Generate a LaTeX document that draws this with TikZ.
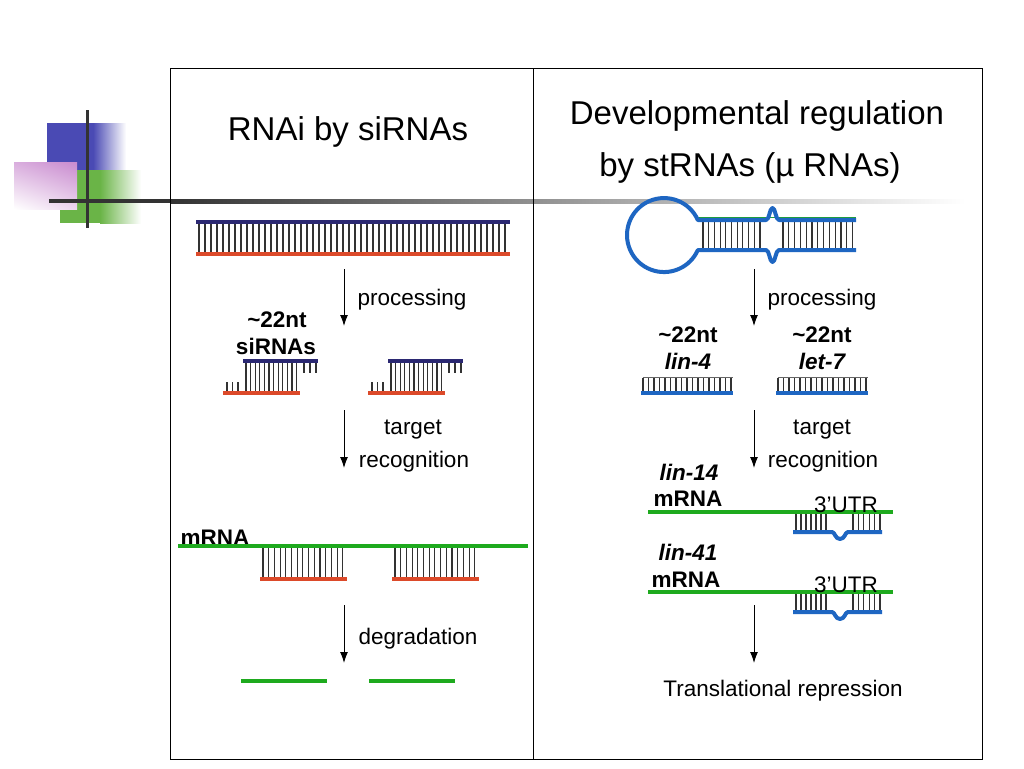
\documentclass[tikz,border=0pt]{standalone}
\usepackage{fontspec}
\setmainfont{Liberation Sans}
\usetikzlibrary{arrows.meta,positioning,calc,shadings}

\definecolor{sinavy}{HTML}{2B2872}
\definecolor{sired}{HTML}{DC4A2A}
\definecolor{mgreen}{HTML}{1EAA1E}
\definecolor{mblue}{HTML}{1E66C2}
\definecolor{decoblue}{HTML}{4A4AB4}
\definecolor{decopink}{HTML}{C98BCF}
\definecolor{decogreen}{HTML}{6AB447}

\tikzset{
  ttl/.style   = {font=\fontsize{33}{40}\selectfont, inner sep=0pt, yshift=-2pt},
  lbl/.style   = {font=\fontsize{22.5}{27}\selectfont, inner sep=0pt, yshift=-2pt},
  lblb/.style  = {font=\fontsize{22.5}{27}\selectfont\bfseries, inner sep=0pt, yshift=-2pt},
  lbli/.style  = {font=\fontsize{22.5}{27}\selectfont\bfseries\itshape, inner sep=0pt, yshift=-2pt},
  rung/.style  = {line width=1.1pt, black!80},
  sense/.style = {line width=4pt, sinavy},
  anti/.style  = {line width=4pt, sired},
  mrna/.style  = {line width=4pt, mgreen},
  mir/.style   = {line width=4pt, mblue},
  stepar/.style = {line width=1pt, -{Latex[length=11pt,width=8pt]}}
}

\begin{document}
\begin{tikzpicture}[x=1pt, y=-1pt]
    \useasboundingbox[fill=white] (0,0) rectangle (1024,768);

    % corner decoration
    \fill[decoblue] (47,123) rectangle (93,170);
    \shade[left color=decoblue, right color=white] (93,123) rectangle (126,170);
    \fill[decogreen] (60,170) rectangle (100,223);
    \shade[left color=decogreen, right color=white] (100,170) rectangle (141,223);
    \shade[upper right=decopink, upper left=decopink!70, lower right=decopink!35,
      lower left=white] (14,162) rectangle (77,209);
    \fill[black!80] (49,199) rectangle (170,203);
    \shade[left color=black!80, right color=white] (170,199) rectangle (965,203);
    \draw[line width=3pt, black!80] (87,110) -- (87,228);

    % frame
    \draw[line width=1pt] (170,68) rectangle (982,759);
    \draw[line width=1pt] (533,68) -- (533,759);

    % titles
    \node[ttl] (tl) at (348,130) {RNAi by siRNAs};
    \node[ttl] (tr1) at (757,114) {Developmental regulation};
    \node[ttl] (tr2) at (750,166) {by stRNAs (µ RNAs)};

    % ---------- left panel ----------
    \foreach \x in {199,205,...,507}
      \draw[rung] (\x,224) -- (\x,252);
    \draw[sense] (196,222) -- (510,222);
    \draw[anti] (196,254) -- (510,254);

    \coordinate (a1s) at (344,269);
    \coordinate (a1e) at (344,326);
    \draw[stepar] (a1s) -- (a1e);
    \node[lbl] (p1) at (412,298) {processing};
    \node[lblb] (nt1) at (277,318) {\textasciitilde22nt};
    \node[lblb] (si) at (276,344) {siRNAs};

    \foreach \dx in {0,145} {
      \begin{scope}[shift={(\dx,0)}]
        \foreach \x in {227,232.5,238}
          \draw[rung] (\x,382) -- (\x,392);
        \foreach \x in {246,250.6,...,297}
          \draw[rung] (\x,362) -- (\x,392);
        \foreach \x in {304,310,316}
          \draw[rung] (\x,362) -- (\x,373);
        \draw[sense] (243,361) -- (318,361);
        \draw[anti] (223,393) -- (300,393);
      \end{scope}
    }

    \coordinate (a2s) at (344,410);
    \coordinate (a2e) at (344,468);
    \draw[stepar] (a2s) -- (a2e);
    \node[lbl] (tg1) at (413,428) {target};
    \node[lbl] (rc1) at (414,460) {recognition};

    \node[lblb] (m1) at (215,536) {mRNA};
    \foreach \dx in {0,132} {
      \begin{scope}[shift={(\dx,0)}]
        \foreach \x in {263,268.7,...,345}
          \draw[rung] (\x,548) -- (\x,577);
        \draw[anti] (260,579) -- (347,579);
      \end{scope}
    }
    \draw[mrna] (178,546) -- (528,546);

    \coordinate (a3s) at (344,605);
    \coordinate (a3e) at (344,663);
    \draw[stepar] (a3s) -- (a3e);
    \node[lbl] (dg) at (418,637) {degradation};
    \draw[mrna] (241,681) -- (327,681);
    \draw[mrna] (369,681) -- (455,681);

    % ---------- right panel ----------
    \foreach \x in {703,708.7,...,764}
      \draw[rung] (\x,222) -- (\x,248);
    \foreach \x in {783,788.8,...,854}
      \draw[rung] (\x,222) -- (\x,248);
    \draw[line width=1.2pt, mgreen!80!mblue] (697,217.4) -- (856,217.4);
    \draw[mir, line join=round]
      (856,220) -- (779,220)
      .. controls (775.5,220) and (775.5,208) .. (772.5,208)
      .. controls (769.5,208) and (769.5,220) .. (766,220)
      -- (697.8,220) arc[start angle=-24, end angle=-336, radius=37]
      -- (766,250)
      .. controls (769.5,250) and (769.5,262) .. (772.5,262)
      .. controls (775.5,262) and (775.5,250) .. (779,250)
      -- (856,250);

    \coordinate (b1s) at (754,269);
    \coordinate (b1e) at (754,326);
    \draw[stepar] (b1s) -- (b1e);
    \node[lbl] (p2) at (822,298) {processing};
    \node[lblb] (nt2) at (688,333) {\textasciitilde22nt};
    \node[lbli] (l4) at (688,359) {lin-4};
    \node[lblb] (nt3) at (822,333) {\textasciitilde22nt};
    \node[lbli] (l7) at (822,359) {let-7};

    \foreach \dx in {0,135} {
      \begin{scope}[shift={(\dx,0)}]
        \foreach \x in {643,648.5,...,732}
          \draw[rung] (\x,378) -- (\x,391);
        \draw[line width=0.8pt, black!60] (642.5,377.6) -- (732.5,377.6);
        \draw[mir] (641,393) -- (733,393);
      \end{scope}
    }

    \coordinate (b2s) at (754,410);
    \coordinate (b2e) at (754,468);
    \draw[stepar] (b2s) -- (b2e);
    \node[lbl] (tg2) at (822,428) {target};
    \node[lbl] (rc2) at (823,460) {recognition};

    \node[lbli] (l14) at (689,470) {lin-14};
    \node[lblb] (m14) at (688,497) {mRNA};
    \node[lbli] (l41) at (688,550) {lin-41};
    \node[lblb] (m41) at (686,578) {mRNA};

    \foreach \dy/\nm in {0/u1,80/u2} {
      \begin{scope}[shift={(0,\dy)}]
        \foreach \x in {796,801,...,828}
          \draw[rung] (\x,514) -- (\x,530);
        \foreach \x in {853,858.4,...,881}
          \draw[rung] (\x,514) -- (\x,530);
        \draw[mir, line join=round] (793,532) -- (832,532)
          .. controls (835,532) and (835,539) .. (840,539)
          .. controls (845,539) and (845,532) .. (848,532) -- (882,532);
        \draw[mrna] (648,512) -- (893,512);
        \node[lbl] (\nm) at (846,503) {3’UTR};
      \end{scope}
    }

    \coordinate (b3s) at (754,605);
    \coordinate (b3e) at (754,663);
    \draw[stepar] (b3s) -- (b3e);
    \node[lbl] (tr) at (783,689) {Translational repression};
\end{tikzpicture}
\end{document}
